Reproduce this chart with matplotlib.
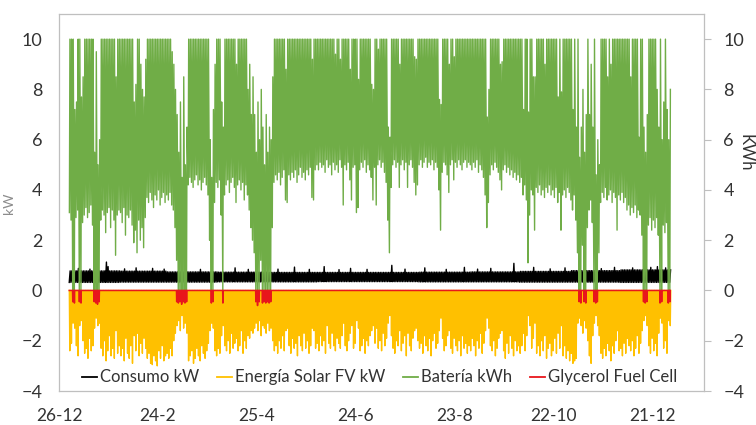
import numpy as np
import matplotlib
matplotlib.use("Agg")
import matplotlib.pyplot as plt
import matplotlib.dates as mdates
from matplotlib.lines import Line2D

plt.rcParams['font.family'] = ['Lato', 'DejaVu Sans']

# one value per day, 1 Jan .. 31 Dec
start_date = '2015-01-01'

# battery: lowest state of charge of each day (kWh)
bat_min = [
    3.1, 2.8, 0, 0, 2.9, 3.2, 0, 0, 2.7, 3.0, 3.3, 2.9, 3.1, 3.4, 2.6, 0, 0, 0, 0, 2.8,
    3.2, 3.0, 2.3, 3.1, 3.3, 2.5, 3.2, 2.8, 1.4, 3.0, 3.2,                      # jan
    3.1, 2.7, 3.3, 2.2, 3.0, 2.9, 3.2, 2.6, 1.9, 2.4, 1.5, 2.8, 2.0, 2.5, 1.7, 2.9, 3.7,
    3.5, 3.9, 3.6, 3.3, 3.8, 3.6, 4.0, 3.4, 3.7, 3.9, 3.5,                      # feb
    3.8, 3.6, 3.9, 3.4, 3.2, 2.5, 1.2, 0, 0, 0, 0, 0, 0, 4.2, 4.5, 4.3, 4.1, 4.4, 4.6,
    4.2, 4.4, 4.0, 4.3, 4.5, 4.2, 3.8, 2.0, 0, 0, 3.5, 4.3,                     # mar
    4.1, 4.4, 3.0, 0, 3.8, 4.2, 4.4, 3.9, 4.3, 4.5, 4.1, 3.5, 4.2, 4.4, 4.0, 4.3, 3.6,
    4.2, 3.8, 3.2, 2.5, 2.0, 1.5, 0, 0, 0, 1.2, 0, 0, 0,                        # apr
    0, 0, 0, 2.5, 4.3, 4.6, 4.4, 4.7, 4.2, 4.5, 4.8, 3.6, 3.5, 4.6, 4.4, 4.7, 4.5, 4.8,
    4.3, 4.6, 4.9, 4.5, 4.7, 4.4, 4.8, 4.6, 4.9, 3.7, 3.6, 4.8, 5.0,            # may
    4.8, 5.1, 4.9, 5.0, 4.7, 5.2, 4.9, 5.0, 4.6, 5.1, 4.8, 5.0, 4.7, 5.2, 4.9, 3.4, 5.0,
    4.8, 5.1, 4.4, 3.6, 4.9, 5.0, 3.1, 3.3, 4.8, 5.1, 4.9, 5.2, 4.7,            # jun
    5.0, 4.8, 4.5, 3.6, 4.9, 3.4, 5.0, 5.2, 4.9, 5.1, 4.7, 4.3, 2.8, 1.5, 4.1, 5.0, 5.2,
    4.9, 5.1, 4.1, 5.0, 5.2, 4.8, 5.1, 4.1, 5.0, 5.2, 4.9, 4.3, 3.8, 4.2,       # jul
    5.0, 5.2, 4.9, 5.1, 5.3, 4.9, 5.1, 5.0, 5.2, 4.8, 5.1, 4.9, 4.0, 2.4, 4.7, 5.1, 5.0,
    4.6, 3.9, 5.0, 5.2, 4.4, 5.1, 4.9, 5.2, 5.0, 4.8, 5.1, 5.2, 4.9, 5.1,       # aug
    5.0, 4.8, 5.1, 4.9, 5.2, 4.7, 5.0, 4.8, 4.5, 3.8, 2.5, 3.5, 4.6, 5.0, 4.8, 5.1, 4.9,
    4.7, 4.4, 4.0, 4.8, 5.0, 4.7, 4.9, 4.6, 4.8, 4.5, 4.7, 4.4, 4.6,            # sep
    4.3, 4.5, 3.8, 4.2, 3.6, 1.1, 3.0, 4.0, 3.8, 2.4, 4.1, 3.9, 4.2, 3.8, 4.0, 3.7, 4.1,
    3.9, 4.2, 3.8, 4.0, 3.7, 4.1, 3.5, 3.9, 2.4, 3.8, 4.0, 3.7, 4.1, 3.9,       # oct
    3.6, 3.2, 3.8, 2.8, 1.5, 0, 0, 1.8, 0, 0, 2.5, 3.2, 3.6, 2.7, 0, 0, 0, 1.5, 3.5,
    3.9, 3.7, 4.1, 3.6, 3.8, 4.0, 3.5, 3.9, 3.7, 2.4, 3.8,                      # nov
    3.6, 3.9, 3.5, 3.7, 3.2, 3.4, 3.0, 3.3, 3.1, 3.4, 2.9, 3.2, 3.0, 2.2, 0, 0, 0, 2.6,
    2.9, 2.4, 2.8, 2.5, 2.9, 2.2, 0, 0, 2.6, 2.3, 2.7, 0, 0,                    # dec
]

# battery full = 10 kWh, days that did not reach full charge
bat_capacity = 10.0
bat_max_days = [3, 4, 7, 8, 15, 16, 17, 18, 28, 39, 40, 43, 44, 45, 46,
                62, 63, 64, 65, 66, 67, 68, 69, 70, 71, 85, 86, 87, 88,
                92, 93, 101, 108, 109, 110, 111, 112, 113, 114, 115, 116, 117, 118, 119,
                120, 121, 122, 123, 131, 147, 161, 164, 170, 175,
                183, 184, 187, 193, 194, 200, 209, 210, 224, 225, 230, 233,
                253, 254, 261, 262, 275, 278, 281, 282, 288, 296, 298,
                305, 307, 309, 310, 311, 312, 313, 315, 316, 317, 319, 320, 321, 326, 328,
                340, 345, 348, 349, 350, 356, 357, 359, 360, 362, 363, 364]
bat_max_vals = [7.2, 7.5, 7.7, 8.5, 5.5, 9.5, 5.0, 6.0, 8.5, 7.5, 8.2, 9.0, 8.0, 7.7, 9.2,
                9.5, 9.0, 8.0, 7.0, 5.5, 7.5, 4.5, 8.5, 5.0, 6.5, 6.0, 4.5, 7.2, 9.0,
                7.5, 6.5, 9.0, 8.0, 9.0, 7.0, 8.5, 7.0, 5.5, 7.5, 6.0, 8.0, 6.5, 5.0, 7.0,
                5.5, 6.5, 6.0, 8.5, 8.8, 9.2, 9.4, 9.2, 8.8, 8.4,
                8.2, 8.0, 9.6, 6.5, 6.1, 9.0, 9.3, 9.2, 7.6, 7.4, 9.0, 9.3,
                6.9, 8.0, 9.0, 9.1, 7.2, 7.1, 8.5, 8.5, 9.0, 7.7, 7.9,
                7.2, 6.5, 5.3, 6.5, 8.0, 5.5, 7.0, 7.0, 9.0, 6.5, 4.6, 6.0, 5.0, 8.5, 9.0,
                8.5, 6.1, 6.5, 5.5, 7.0, 8.0, 6.5, 6.0, 7.5, 7.2, 6.0, 8.0]

# PV generation peak of each day (kW, drawn negative)
solar_peak = [
    -2.4, -2.1, -1.3, -1.5, -2.2, -2.6, -1.4, -1.2, -2.0, -2.5, -2.3, -2.7, -1.9, -2.4, -2.2,
    -1.5, -1.1, -1.4, -1.3, -2.3, -2.6, -2.0, -2.8, -2.4, -1.8, -2.6, -2.3, -2.7, -1.6, -2.5, -2.2,
    -2.6, -2.3, -2.8, -1.9, -2.5, -2.7, -2.2, -2.9, -1.8, -2.4, -1.7, -2.6, -2.1, -2.5,
    -1.9, -2.3, -2.7, -2.5, -2.9, -2.95, -2.6, -2.8, -3.0, -2.4, -2.7, -2.2, -2.8, -2.6,
    -2.5, -2.7, -2.3, -2.6, -2.0, -1.7, -1.4, -1.2, -1.6, -1.0, -1.5, -1.3, -1.7, -2.8, -2.6,
    -2.4, -2.9, -2.7, -2.3, -2.6, -2.8, -2.2, -2.5, -2.7, -2.4, -2.1, -1.6, -1.3, -1.5, -2.4, -2.6,
    -2.3, -2.5, -1.8, -1.4, -2.2, -2.4, -2.0, -2.5, -1.7, -2.3, -2.1, -1.9, -2.4, -2.2, -1.6,
    -2.5, -2.0, -2.3, -1.8, -1.9, -1.6, -1.7, -1.5, -1.3, -1.6, -1.2, -1.8, -1.4, -1.5, -1.7,
    -1.3, -1.6, -1.5, -2.0, -2.4, -2.2, -2.5, -2.0, -2.3, -1.8, -2.4, -1.6, -1.5, -2.2, -2.5,
    -1.9, -2.3, -2.1, -2.6, -1.8, -2.2, -2.4, -1.7, -2.3, -2.0, -2.5, -2.2, -1.5, -1.6, -2.3, -2.1,
    -2.4, -1.8, -2.2, -2.0, -2.5, -1.4, -2.1, -2.3, -1.7, -2.2, -2.4, -1.9, -2.1, -2.3, -1.8,
    -1.3, -2.2, -2.4, -2.0, -1.7, -1.4, -2.3, -2.1, -1.2, -1.5, -2.4, -2.2, -1.9, -2.5, -2.0,
    -2.2, -1.8, -1.6, -1.4, -2.1, -1.5, -2.3, -2.0, -2.4, -1.7, -2.2, -1.9, -1.3, -1.0, -1.8,
    -2.3, -2.5, -2.0, -2.2, -1.6, -2.4, -2.1, -1.8, -2.6, -1.7, -2.2, -2.4, -1.9, -1.6, -1.5, -2.0,
    -2.3, -2.1, -2.5, -1.8, -2.2, -2.4, -1.9, -2.6, -2.0, -1.7, -2.3, -2.1, -1.6, -1.1, -1.9,
    -2.4, -2.2, -1.8, -1.6, -2.3, -2.5, -1.9, -2.2, -2.4, -2.0, -2.6, -1.8, -2.3, -2.1, -2.5, -2.2,
    -2.4, -1.9, -2.2, -2.6, -2.0, -2.3, -1.7, -2.5, -2.1, -1.6, -1.1, -1.5, -2.2, -2.4, -2.0,
    -2.6, -2.3, -1.9, -1.7, -1.6, -2.4, -2.7, -2.1, -2.5, -1.8, -2.3, -2.6, -2.0, -2.4, -2.2,
    -2.5, -2.2, -1.7, -2.4, -1.8, -1.0, -1.4, -2.3, -1.9, -1.3, -2.5, -2.2, -2.6, -2.0, -2.4,
    -1.8, -2.7, -2.3, -2.1, -2.6, -2.4, -1.9, -2.5, -1.7, -2.3, -1.4, -2.6, -2.2, -2.7, -2.4, -2.8,
    -2.5, -2.9, -2.8, -2.7, -1.3, -1.1, -1.4, -1.7, -1.2, -1.5, -2.0, -2.6, -2.9, -1.8, -1.3,
    -1.0, -1.4, -1.8, -2.5, -2.7, -2.3, -2.6, -2.1, -2.4, -2.8, -2.2, -2.5, -2.0, -1.6, -2.4,
    -2.3, -2.6, -2.1, -2.5, -1.9, -2.2, -2.4, -2.0, -2.6, -2.3, -1.8, -2.5, -2.1, -1.6, -1.2,
    -1.0, -1.4, -2.2, -2.5, -1.9, -2.4, -2.1, -2.6, -1.7, -1.1, -1.3, -2.3, -2.0, -2.5, -1.2, -1.4,
]

# household consumption (kW): night base and daytime level per month, plus peaks
month_starts = [0, 31, 59, 90, 120, 151, 181, 212, 243, 273, 304, 334]
cons_low_month = [0.32, 0.33, 0.33, 0.34, 0.34, 0.35, 0.35, 0.34, 0.34, 0.33, 0.33, 0.32]
cons_high_month = [0.78, 0.77, 0.74, 0.73, 0.72, 0.72, 0.72, 0.73, 0.74, 0.76, 0.79, 0.82]
cons_peak_days = [5, 12, 22, 23, 33, 40, 50, 57, 79, 100, 108, 126, 136, 145, 154, 163,
                  170, 180, 195, 203, 215, 228, 239, 247, 255, 269, 281, 291, 300, 312,
                  322, 330, 341, 352, 356, 361]
cons_peak_vals = [0.88, 0.85, 1.13, 0.95, 0.86, 0.9, 0.88, 0.85, 0.84, 0.9, 0.84, 0.85,
                  0.93, 0.84, 0.95, 0.83, 0.88, 0.84, 1.0, 0.85, 0.9, 0.84, 0.92, 0.85,
                  0.88, 1.08, 0.92, 0.86, 0.9, 0.88, 0.87, 0.92, 0.9, 0.92, 0.95, 0.9]

# glycerol fuel cell running days (kW, drawn negative)
fc_days = [2, 3, 6, 7, 15, 16, 17, 18, 65, 66, 67, 68, 69, 70, 71, 86, 87, 93,
           113, 114, 115, 117, 118, 119, 120, 121, 122, 309, 310, 312, 313,
           318, 319, 320, 348, 349, 350, 358, 359, 363, 364]
fc_kw = [0.45, 0.5, 0.45, 0.5, 0.45, 0.5, 0.55, 0.45, 0.45, 0.5, 0.45, 0.55, 0.45, 0.5, 0.45,
         0.5, 0.45, 0.5, 0.45, 0.6, 0.45, 0.5, 0.45, 0.5, 0.45, 0.5, 0.45, 0.45, 0.5, 0.45,
         0.5, 0.45, 0.5, 0.45, 0.45, 0.5, 0.45, 0.5, 0.45, 0.5, 0.45]

tick_dates = ['2014-12-26', '2015-02-24', '2015-04-25', '2015-06-24',
              '2015-08-23', '2015-10-22', '2015-12-21']

labels = ['Consumo kW', 'Energía Solar FV kW', 'Batería kWh', 'Glycerol Fuel Cell']
colors = ['#000000', '#FFC000', '#70AD47', '#E8161B']

# ---- build the daily strokes -------------------------------------------
n = len(bat_min)
t0 = mdates.date2num(np.datetime64(start_date))
day = t0 + np.arange(n)

bat_max = np.full(n, bat_capacity)
bat_max[bat_max_days] = bat_max_vals

cons_low = np.zeros(n)
cons_high = np.zeros(n)
bounds = month_starts + [n]
for m in range(12):
    cons_low[bounds[m]:bounds[m + 1]] = cons_low_month[m]
    cons_high[bounds[m]:bounds[m + 1]] = cons_high_month[m]
cons_high[cons_peak_days] = cons_peak_vals

fc = np.zeros(n)
fc[fc_days] = fc_kw

zero = np.zeros(n)


def zigzag(offsets, values):
    x = np.column_stack([day + o for o in offsets]).ravel()
    y = np.column_stack(values).ravel()
    return x, y


fig = plt.figure(figsize=(7.56, 4.25), dpi=100)
ax = fig.add_axes([59 / 756, 1 - 391 / 425, 645 / 756, 377 / 425])

x, y = zigzag([0.2, 0.75], [cons_low, cons_high])
ax.plot(x, y, color=colors[0], lw=1.0, zorder=2)
x, y = zigzag([0.25, 0.55, 0.85], [zero, np.array(solar_peak), zero])
ax.plot(x, y, color=colors[1], lw=1.0, zorder=3)
x, y = zigzag([0.3, 0.62], [np.array(bat_min), bat_max])
ax.plot(x, y, color=colors[2], lw=1.0, zorder=4)
x, y = zigzag([0.2, 0.35, 0.5], [zero, -fc, zero])
ax.plot(x, y, color=colors[3], lw=1.1, zorder=5)

ax.set_ylim(-4, 11)
ax.set_yticks(np.arange(-4, 11, 2))
ax.set_xlim(mdates.date2num(np.datetime64(tick_dates[0])),
            mdates.date2num(np.datetime64(tick_dates[0])) + 391)
ticks = [mdates.date2num(np.datetime64(d)) for d in tick_dates]
ax.set_xticks(ticks)
ax.set_xticklabels([f"{int(d[8:])}-{int(d[5:7])}" for d in tick_dates])

for s in ax.spines.values():
    s.set_color('#BFBFBF')
    s.set_linewidth(0.9)

ax.tick_params(axis='y', length=0, pad=12, labelsize=13, labelcolor='#333333')
ax.tick_params(axis='x', length=0, pad=12, labelsize=12.5, labelcolor='#333333')

ax2 = ax.twinx()
ax2.set_ylim(-4, 11)
ax2.set_yticks(np.arange(-4, 11, 2))
ax2.tick_params(axis='y', length=5, width=0.8, color='#BFBFBF', pad=9,
                labelsize=13, labelcolor='#333333')
for s in ax2.spines.values():
    s.set_visible(False)

fig.text(746 / 756, 1 - 153 / 425, 'KWh', rotation=-90, ha='center', va='center',
         fontsize=12, color='#333333')
fig.text(9 / 756, 1 - 203 / 425, 'kW', rotation=90, ha='center', va='center',
         fontsize=10, color='#8C8C8C')

handles = [Line2D([], [], color=c, lw=1.3) for c in colors]
ax.legend(handles, labels, loc='center', bbox_to_anchor=(0.497, 0.036), ncol=4,
          frameon=False, fontsize=12, handlelength=0.9, handletextpad=0.15,
          columnspacing=1.1, labelcolor='#333333')

fig.savefig('out.png', dpi=100)
